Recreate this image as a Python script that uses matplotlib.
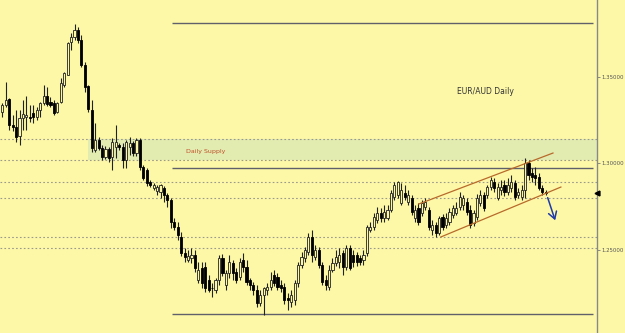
import matplotlib
matplotlib.use("Agg")
import matplotlib.pyplot as plt
import numpy as np

# ---- data (EUR/AUD daily candles) ----
opens = [1.3297, 1.3338, 1.3373, 1.3222, 1.3210, 1.3158, 1.3263, 1.3268, 1.3268, 1.3292,
         1.3268, 1.3309, 1.3350, 1.3390, 1.3355, 1.3350, 1.3297, 1.3355, 1.3454, 1.3512,
         1.3703, 1.3732, 1.3772, 1.3714, 1.3570, 1.3448, 1.3309, 1.3077, 1.3135, 1.3089,
         1.3036, 1.3083, 1.3036, 1.3094, 1.3106, 1.3094, 1.3020, 1.3094, 1.3118, 1.3060,
         1.3135, 1.2979, 1.2962, 1.2892, 1.2858, 1.2840, 1.2834, 1.2858, 1.2817, 1.2788,
         1.2660, 1.2631, 1.2573, 1.2481, 1.2441, 1.2452, 1.2470, 1.2325, 1.2395, 1.2400,
         1.2325, 1.2281, 1.2267, 1.2325, 1.2452, 1.2296, 1.2366, 1.2423, 1.2371, 1.2342,
         1.2441, 1.2400, 1.2325, 1.2296, 1.2267, 1.2192, 1.2238, 1.2267, 1.2284, 1.2354,
         1.2342, 1.2296, 1.2284, 1.2221, 1.2197, 1.2209, 1.2308, 1.2412, 1.2452, 1.2487,
         1.2573, 1.2458, 1.2499, 1.2412, 1.2325, 1.2284, 1.2383, 1.2423, 1.2429, 1.2481,
         1.2400, 1.2510, 1.2470, 1.2470, 1.2452, 1.2441, 1.2481, 1.2614, 1.2631, 1.2672,
         1.2713, 1.2684, 1.2684, 1.2730, 1.2806, 1.2817, 1.2771, 1.2829, 1.2776, 1.2800,
         1.2684, 1.2742, 1.2713, 1.2747, 1.2730, 1.2614, 1.2643, 1.2597, 1.2689, 1.2643,
         1.2660, 1.2701, 1.2713, 1.2747, 1.2759, 1.2776, 1.2730, 1.2655, 1.2689, 1.2771,
         1.2817, 1.2817, 1.2863, 1.2892, 1.2800, 1.2846, 1.2875, 1.2834, 1.2858, 1.2887,
         1.2817, 1.2806, 1.2846, 1.3002, 1.2945, 1.2933, 1.2921, 1.2858, 1.2834]
closes = [1.3338, 1.3367, 1.3222, 1.3210, 1.3152, 1.3263, 1.3286, 1.3280, 1.3263, 1.3268,
          1.3309, 1.3350, 1.3390, 1.3344, 1.3338, 1.3292, 1.3350, 1.3466, 1.3524, 1.3697,
          1.3732, 1.3772, 1.3714, 1.3570, 1.3442, 1.3315, 1.3089, 1.3135, 1.3089, 1.3036,
          1.3083, 1.3031, 1.3123, 1.3123, 1.3094, 1.3020, 1.3123, 1.3118, 1.3060, 1.3135,
          1.2979, 1.2916, 1.2887, 1.2875, 1.2875, 1.2863, 1.2875, 1.2817, 1.2788, 1.2660,
          1.2631, 1.2585, 1.2481, 1.2458, 1.2464, 1.2470, 1.2395, 1.2383, 1.2308, 1.2279,
          1.2267, 1.2277, 1.2325, 1.2452, 1.2366, 1.2366, 1.2429, 1.2366, 1.2325, 1.2429,
          1.2400, 1.2313, 1.2296, 1.2267, 1.2192, 1.2238, 1.2279, 1.2284, 1.2325, 1.2308,
          1.2284, 1.2279, 1.2209, 1.2209, 1.2238, 1.2308, 1.2412, 1.2458, 1.2499, 1.2573,
          1.2470, 1.2499, 1.2412, 1.2313, 1.2296, 1.2383, 1.2423, 1.2458, 1.2470, 1.2400,
          1.2510, 1.2395, 1.2429, 1.2429, 1.2429, 1.2470, 1.2631, 1.2631, 1.2689, 1.2713,
          1.2684, 1.2718, 1.2730, 1.2829, 1.2875, 1.2892, 1.2846, 1.2806, 1.2817, 1.2718,
          1.2730, 1.2660, 1.2771, 1.2776, 1.2631, 1.2643, 1.2597, 1.2684, 1.2631, 1.2684,
          1.2718, 1.2742, 1.2742, 1.2806, 1.2800, 1.2718, 1.2643, 1.2713, 1.2800, 1.2817,
          1.2742, 1.2863, 1.2904, 1.2858, 1.2863, 1.2863, 1.2834, 1.2875, 1.2892, 1.2806,
          1.2834, 1.2846, 1.3002, 1.2933, 1.2921, 1.2916, 1.2858, 1.2834, 1.2829]
highs = [1.3350, 1.3471, 1.3379, 1.3280, 1.3309, 1.3309, 1.3367, 1.3390, 1.3338, 1.3338,
         1.3326, 1.3355, 1.3454, 1.3442, 1.3384, 1.3367, 1.3355, 1.3495, 1.3529, 1.3703,
         1.3755, 1.3807, 1.3790, 1.3743, 1.3587, 1.3454, 1.3367, 1.3234, 1.3152, 1.3106,
         1.3100, 1.3094, 1.3147, 1.3222, 1.3118, 1.3118, 1.3135, 1.3152, 1.3129, 1.3147,
         1.3147, 1.2991, 1.2974, 1.2904, 1.2887, 1.2875, 1.2881, 1.2869, 1.2829, 1.2800,
         1.2684, 1.2660, 1.2602, 1.2510, 1.2499, 1.2510, 1.2499, 1.2429, 1.2429, 1.2429,
         1.2354, 1.2308, 1.2337, 1.2470, 1.2476, 1.2383, 1.2470, 1.2441, 1.2395, 1.2452,
         1.2481, 1.2441, 1.2337, 1.2313, 1.2296, 1.2267, 1.2284, 1.2308, 1.2371, 1.2383,
         1.2366, 1.2325, 1.2308, 1.2250, 1.2267, 1.2325, 1.2429, 1.2487, 1.2516, 1.2597,
         1.2614, 1.2527, 1.2516, 1.2429, 1.2354, 1.2412, 1.2452, 1.2499, 1.2510, 1.2499,
         1.2527, 1.2527, 1.2499, 1.2487, 1.2470, 1.2499, 1.2643, 1.2660, 1.2713, 1.2747,
         1.2742, 1.2759, 1.2759, 1.2846, 1.2892, 1.2898, 1.2887, 1.2875, 1.2846, 1.2817,
         1.2759, 1.2771, 1.2788, 1.2800, 1.2747, 1.2672, 1.2660, 1.2695, 1.2707, 1.2713,
         1.2742, 1.2759, 1.2776, 1.2834, 1.2817, 1.2800, 1.2759, 1.2730, 1.2823, 1.2846,
         1.2834, 1.2875, 1.2921, 1.2916, 1.2887, 1.2904, 1.2904, 1.2916, 1.2933, 1.2904,
         1.2858, 1.2875, 1.3031, 1.3020, 1.2974, 1.2979, 1.2945, 1.2875, 1.2846]
lows = [1.3268, 1.3326, 1.3193, 1.3187, 1.3123, 1.3106, 1.3193, 1.3193, 1.3239, 1.3234,
        1.3251, 1.3268, 1.3338, 1.3332, 1.3326, 1.3280, 1.3292, 1.3350, 1.3442, 1.3512,
        1.3656, 1.3714, 1.3697, 1.3558, 1.3413, 1.3297, 1.3065, 1.3065, 1.3077, 1.3020,
        1.3025, 1.3008, 1.2962, 1.3031, 1.3077, 1.2974, 1.2974, 1.3048, 1.3042, 1.3042,
        1.2962, 1.2904, 1.2869, 1.2863, 1.2846, 1.2817, 1.2800, 1.2776, 1.2747, 1.2626,
        1.2614, 1.2556, 1.2464, 1.2429, 1.2429, 1.2423, 1.2371, 1.2308, 1.2279, 1.2255,
        1.2255, 1.2226, 1.2250, 1.2296, 1.2348, 1.2267, 1.2337, 1.2325, 1.2308, 1.2325,
        1.2371, 1.2296, 1.2267, 1.2238, 1.2168, 1.2174, 1.2122, 1.2238, 1.2267, 1.2290,
        1.2267, 1.2255, 1.2186, 1.2151, 1.2168, 1.2180, 1.2284, 1.2395, 1.2429, 1.2470,
        1.2429, 1.2441, 1.2395, 1.2296, 1.2267, 1.2267, 1.2371, 1.2406, 1.2395, 1.2354,
        1.2383, 1.2383, 1.2400, 1.2406, 1.2412, 1.2412, 1.2464, 1.2602, 1.2614, 1.2655,
        1.2660, 1.2660, 1.2672, 1.2718, 1.2788, 1.2800, 1.2759, 1.2788, 1.2759, 1.2701,
        1.2660, 1.2643, 1.2695, 1.2730, 1.2614, 1.2585, 1.2573, 1.2585, 1.2614, 1.2626,
        1.2643, 1.2684, 1.2701, 1.2730, 1.2730, 1.2701, 1.2626, 1.2637, 1.2672, 1.2753,
        1.2724, 1.2800, 1.2846, 1.2834, 1.2788, 1.2817, 1.2811, 1.2817, 1.2834, 1.2788,
        1.2800, 1.2788, 1.2800, 1.2904, 1.2892, 1.2875, 1.2846, 1.2817, 1.2817]

tick_values = [1.25, 1.30, 1.35]
tick_labels = ["1.25000", "1.30000", "1.35000"]

dotted_levels = [1.3141, 1.3017, 1.2892, 1.2797, 1.2574, 1.2508]
solid_levels = [1.3812, 1.2973, 1.2128]
supply_zone = (1.3017, 1.3141)
channel_upper_x, channel_upper_y = [121.1, 160.1], [1.2765, 1.3060]
channel_lower_x, channel_lower_y = [127.5, 162.4], [1.2574, 1.2863]
arrow_start, arrow_end = (158.3, 1.2817), (161.0, 1.2655)
last_price = 1.2829

# ---- figure ----
bg = "#fdf8a8"
fig = plt.figure(figsize=(6.25, 3.33), dpi=100, facecolor=bg)
ax = fig.add_axes([0, 0, 597 / 625, 1])
ax.set_facecolor(bg)

n = len(opens)
xs = np.arange(n)
xmin, xmax = -0.67, 172.9
ymin, ymax = 1.2018, 1.3946
ax.set_xlim(xmin, xmax)
ax.set_ylim(ymin, ymax)

# supply zone
ax.axhspan(supply_zone[0], supply_zone[1], xmin=(24.9 - xmin) / (xmax - xmin), xmax=1,
           color="#e2ebb0", zorder=0.5, lw=0)
for lv in dotted_levels:
    ax.axhline(lv, color="#9a9a8a", lw=0.8, ls=(0, (1.5, 2)), zorder=1)
for lv in solid_levels:
    ax.hlines(lv, 49.3, 171.7, color="#60606a", lw=1.0, zorder=1)

# candles
o = np.array(opens); c = np.array(closes); h = np.array(highs); l = np.array(lows)
up = c >= o
ax.vlines(xs, l, h, color="#222222", lw=0.8, zorder=2)
bottoms = np.minimum(o, c)
heights = np.maximum(np.abs(c - o), 0.00025)
ax.bar(xs[up], heights[up], bottom=bottoms[up], width=0.62, facecolor=bg,
       edgecolor="#222222", linewidth=0.6, zorder=3)
ax.bar(xs[~up], heights[~up], bottom=bottoms[~up], width=0.62, facecolor="#000000",
       edgecolor="#000000", linewidth=0.6, zorder=3)

# channel and arrow
ax.plot(channel_upper_x, channel_upper_y, color="#b86a2a", lw=0.9, zorder=4)
ax.plot(channel_lower_x, channel_lower_y, color="#b86a2a", lw=0.9, zorder=4)
ax.annotate("", xy=arrow_end, xytext=arrow_start,
            arrowprops=dict(arrowstyle="->,head_length=0.5,head_width=0.3",
                            color="#1f3aa8", lw=1.1), zorder=5)

# texts
ax.text(140.5, 1.3419, "EUR/AUD Daily", fontsize=5.5, color="#333333",
        ha="center", va="center", family="DejaVu Sans")
ax.text(53.5, 1.3066, "Daily Supply", fontsize=4.5, color="#c0502a",
        ha="left", va="center", family="DejaVu Sans")

# axis styling
for side in ["left", "top", "bottom"]:
    ax.spines[side].set_visible(False)
ax.spines["right"].set_color("#888888")
ax.spines["right"].set_linewidth(1.0)
ax.set_xticks([])
ax.yaxis.tick_right()
ax.set_yticks(tick_values)
ax.set_yticklabels(tick_labels)
ax.tick_params(axis="y", direction="out", length=2, width=0.6, color="#777777",
               labelsize=3.9, labelcolor="#555555", pad=1.5)
ax.plot([1.0], [last_price], marker="<", color="black", markersize=3.5,
        transform=ax.get_yaxis_transform(), clip_on=False, zorder=6)

fig.savefig("out.png", dpi=100, facecolor=bg)
